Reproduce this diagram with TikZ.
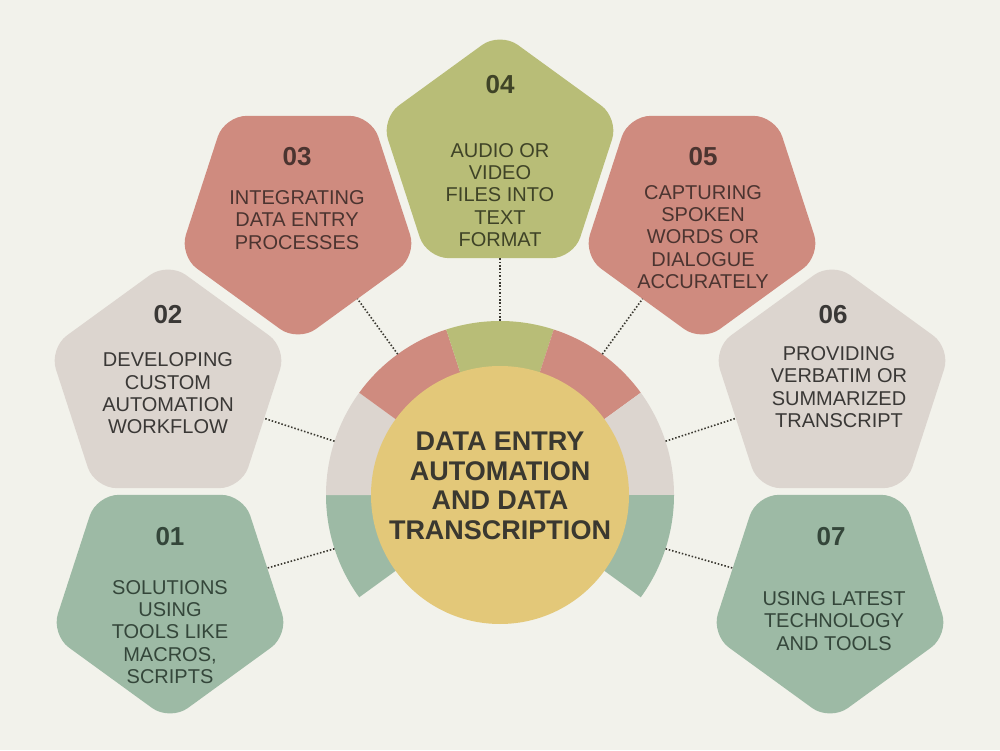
\documentclass[tikz,border=0pt]{standalone}
\usepackage{fontspec}
\setmainfont{Liberation Sans}
\usetikzlibrary{shapes.geometric}
\definecolor{bg}{HTML}{F2F2EB}
\definecolor{cgreen}{HTML}{9DBAA5}
\definecolor{cgray}{HTML}{DCD5CF}
\definecolor{cred}{HTML}{CF8B7F}
\definecolor{colive}{HTML}{B8BD77}
\definecolor{cyellow}{HTML}{E3C879}
\definecolor{tgreen}{HTML}{34463A}
\definecolor{tgray}{HTML}{3A3836}
\definecolor{tred}{HTML}{4B3430}
\definecolor{tolive}{HTML}{3F4327}
\definecolor{tdark}{HTML}{3A3830}
\begin{document}
\begin{tikzpicture}[x=1pt,y=1pt,
  penta/.style={regular polygon, regular polygon sides=5, minimum size=250pt,
    inner sep=0pt, outer sep=0pt, rounded corners=22pt},
  pdown/.style={penta, shape border rotate=180},
  numtxt/.style={font=\fontsize{26}{28}\selectfont\bfseries, align=center, inner sep=0pt},
  bodytxt/.style={font=\fontsize{20}{22.4}\selectfont, align=center, inner sep=0pt},
  dotline/.style={draw=tdark, line width=1.6pt, dash pattern=on 1.5pt off 1.9pt}]
\useasboundingbox (0,0) rectangle (1000,750);
\fill[bg] (0,0) rectangle (1000,750);
% ring segments
\fill[cgreen] (500,255) -- ++(180:174) arc[start angle=180, end angle=216, radius=174] -- cycle;
\fill[cgray]  (500,255) -- ++(144:174) arc[start angle=144, end angle=180, radius=174] -- cycle;
\fill[cred]   (500,255) -- ++(108:174) arc[start angle=108, end angle=144, radius=174] -- cycle;
\fill[colive] (500,255) -- ++(72:174) arc[start angle=72, end angle=108, radius=174] -- cycle;
\fill[cred]   (500,255) -- ++(36:174) arc[start angle=36, end angle=72, radius=174] -- cycle;
\fill[cgray]  (500,255) -- ++(0:174) arc[start angle=0, end angle=36, radius=174] -- cycle;
\fill[cgreen] (500,255) -- ++(-36:174) arc[start angle=-36, end angle=0, radius=174] -- cycle;
\node[circle, minimum size=348pt, inner sep=0pt, outer sep=0pt] (ring) at (500,255) {};
\node[circle, fill=cyellow, minimum size=258pt, inner sep=0pt, outer sep=0pt] (hub) at (500,255) {};
\node[font=\fontsize{27}{29.5}\selectfont\bfseries, text=tdark, align=center, inner sep=0pt] (title) at (500,264)
  {DATA ENTRY\\AUTOMATION\\AND DATA\\TRANSCRIPTION};
% pentagons
\node[pdown, fill=cgreen] (p1) at (170,154) {};
\node[penta, fill=cgray]  (p2) at (168,363) {};
\node[pdown, fill=cred]   (p3) at (298,533) {};
\node[penta, fill=colive] (p4) at (500,593) {};
\node[pdown, fill=cred]   (p5) at (702,533) {};
\node[penta, fill=cgray]  (p6) at (832,363) {};
\node[pdown, fill=cgreen] (p7) at (830,154) {};
% connectors
\draw[dotline] (ring.198) -- (p1);
\draw[dotline] (ring.162) -- (p2);
\draw[dotline] (ring.126) -- (p3);
\draw[dotline] (ring.90)  -- (p4);
\draw[dotline] (ring.54)  -- (p5);
\draw[dotline] (ring.18)  -- (p6);
\draw[dotline] (ring.-18) -- (p7);
% texts
\node[numtxt, text=tgreen] (n1) at (170,213) {01};
\node[bodytxt, text=tgreen] (b1) at (170,118) {SOLUTIONS\\USING\\TOOLS LIKE\\MACROS,\\SCRIPTS};
\node[numtxt, text=tgray] (n2) at (168,435) {02};
\node[bodytxt, text=tgray] (b2) at (168,356.5) {DEVELOPING\\CUSTOM\\AUTOMATION\\WORKFLOW};
\node[numtxt, text=tred] (n3) at (297,593) {03};
\node[bodytxt, text=tred] (b3) at (297,530) {INTEGRATING\\DATA ENTRY\\PROCESSES};
\node[numtxt, text=tolive] (n4) at (500,665) {04};
\node[bodytxt, text=tolive] (b4) at (500,555) {AUDIO OR\\VIDEO\\FILES INTO\\TEXT\\FORMAT};
\node[numtxt, text=tred] (n5) at (703,593) {05};
\node[bodytxt, text=tred] (b5) at (703,513) {CAPTURING\\SPOKEN\\WORDS OR\\DIALOGUE\\ACCURATELY};
\node[numtxt, text=tgray] (n6) at (833,435) {06};
\node[bodytxt, text=tgray] (b6) at (839,363) {PROVIDING\\VERBATIM OR\\SUMMARIZED\\TRANSCRIPT};
\node[numtxt, text=tgreen] (n7) at (831,213) {07};
\node[bodytxt, text=tgreen] (b7) at (834,129) {USING LATEST\\TECHNOLOGY\\AND TOOLS};
\end{tikzpicture}
\end{document}
